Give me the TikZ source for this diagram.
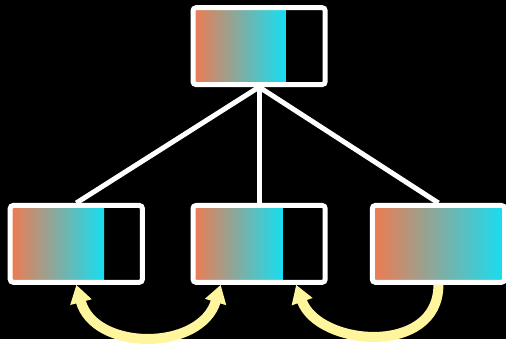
\documentclass[tikz,border=0pt]{standalone}
\usepackage{tikz}
\usepackage{xcolor}
\usetikzlibrary{calc,arrows.meta}

\definecolor{coral}{RGB}{240,122,80}
\definecolor{aqua}{RGB}{22,222,242}
\definecolor{butter}{RGB}{255,245,157}

\begin{document}
\begin{tikzpicture}[x=0.5pt, y=-0.5pt, >={Triangle[width=10.5pt,length=9pt]},
  box/.style={rectangle, draw=white, line width=2.5pt, rounded corners=1.5pt, inner sep=0pt,
    minimum width=66.25pt, minimum height=38.5pt,
    path picture={
      \coordinate (fillend) at ($(path picture bounding box.north west)!#1!(path picture bounding box.north east)$);
      \shade[left color=coral, right color=aqua, sharp corners]
        (path picture bounding box.south west) rectangle (fillend);}},
  box/.default=1,
  link/.style={draw=white, line width=2.5pt},
  hop/.style={draw=butter, line width=5pt}]

\fill[black] (0,0) rectangle (507,340);

% Row 1
\node[box=0.70] (n11) at (259.75,46.25) {};

% Row 2
\node[box=0.71] (n21) at (76.5,244.5) {};
\node[box=0.68] (n22) at (259.75,244.5) {};
\node[box] (n23) at (439.5,244.5) {};

% Tree edges
\draw[link] (n11.south) -- (n21.north);
\draw[link] (n11.south) -- (n22.north);
\draw[link] (n11.south) -- (n23.north);

% Swaps along the bottom
\coordinate (a1) at ($(n22.south west)!0.22!(n22.south east)$);
\coordinate (a2) at ($(n22.south west)!0.77!(n22.south east)$);
\draw[hop, <->] (n21.south) .. controls +(18,67) and +(-20,67) .. (a1);
\draw[hop, ->] (n23.south) .. controls +(0,72) and +(22,62) .. (a2);

\end{tikzpicture}
\end{document}
